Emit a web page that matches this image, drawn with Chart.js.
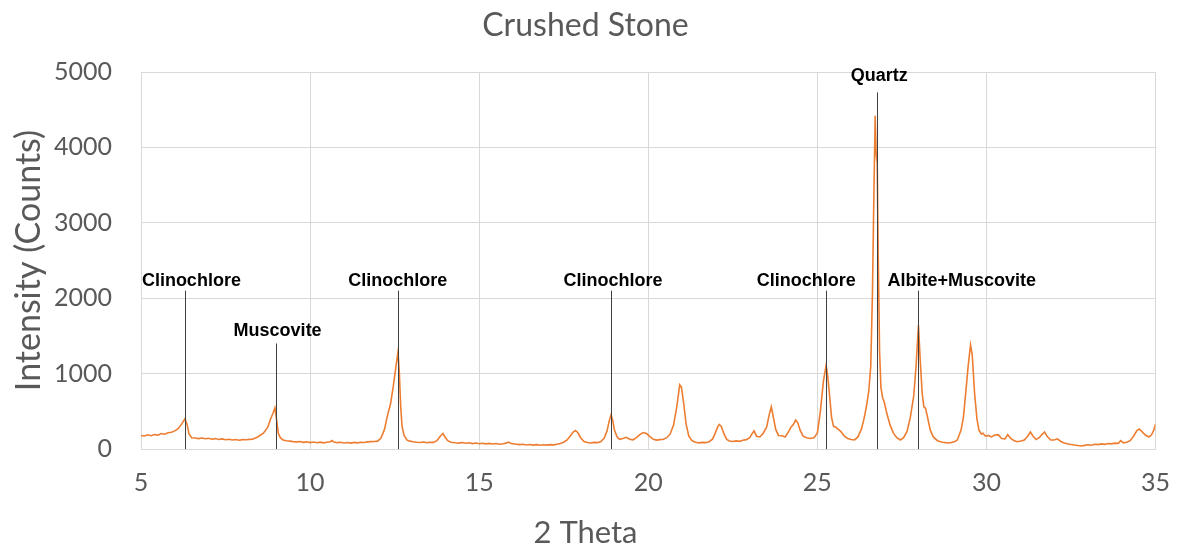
<!DOCTYPE html>
<html>
<head>
<meta charset="utf-8">
<script src="https://cdn.jsdelivr.net/npm/chart.js@4.4.1/dist/chart.umd.min.js"></script>
<style>
    html, body { margin: 0; padding: 0; background: #ffffff; }
</style>
</head>
<body>
<canvas id="xrd-chart" width="1182" height="548"></canvas>
<script>
// XRD scan: 2 theta (degrees) and intensity (counts)
const twoTheta = [
    5.0, 5.1, 5.2, 5.3, 5.4, 5.5, 5.6, 5.7, 5.8, 5.9, 6.0, 6.1, 6.2, 6.3, 6.36, 6.42, 6.5, 6.6,
    6.7, 6.8, 6.9, 7.0, 7.1, 7.2, 7.3, 7.4, 7.5, 7.6, 7.7, 7.8, 7.9, 8.0, 8.1, 8.2, 8.3, 8.45,
    8.62, 8.75, 8.82, 8.9, 8.96, 9.0, 9.06, 9.12, 9.2, 9.3, 9.4, 9.5, 9.6, 9.7, 9.8, 9.9, 10.0,
    10.1, 10.2, 10.3, 10.4, 10.5, 10.6, 10.65, 10.7, 10.8, 10.9, 11.0, 11.1, 11.2, 11.3, 11.4,
    11.5, 11.6, 11.7, 11.8, 11.9, 12.0, 12.1, 12.2, 12.28, 12.38, 12.46, 12.54, 12.6, 12.64,
    12.68, 12.72, 12.78, 12.86, 12.95, 13.05, 13.15, 13.25, 13.35, 13.45, 13.55, 13.65, 13.75,
    13.85, 13.93, 13.99, 14.07, 14.17, 14.3, 14.4, 14.5, 14.6, 14.7, 14.8, 14.9, 15.0, 15.1,
    15.2, 15.3, 15.4, 15.5, 15.6, 15.7, 15.8, 15.86, 15.95, 16.1, 16.2, 16.3, 16.4, 16.5, 16.6,
    16.7, 16.8, 16.9, 17.0, 17.1, 17.2, 17.3, 17.4, 17.5, 17.6, 17.7, 17.78, 17.85, 17.92, 18.0,
    18.1, 18.2, 18.3, 18.4, 18.5, 18.6, 18.7, 18.78, 18.85, 18.9, 18.95, 19.0, 19.08, 19.15,
    19.25, 19.35, 19.45, 19.55, 19.65, 19.75, 19.85, 19.95, 20.05, 20.15, 20.25, 20.35, 20.45,
    20.55, 20.65, 20.75, 20.85, 20.93, 20.98, 21.05, 21.12, 21.2, 21.3, 21.4, 21.5, 21.6, 21.7,
    21.8, 21.9, 21.98, 22.05, 22.1, 22.16, 22.24, 22.32, 22.4, 22.5, 22.6, 22.7, 22.8, 22.9,
    23.0, 23.08, 23.13, 23.2, 23.3, 23.4, 23.5, 23.58, 23.64, 23.7, 23.77, 23.85, 23.95, 24.05,
    24.15, 24.22, 24.3, 24.36, 24.42, 24.5, 24.58, 24.68, 24.78, 24.9, 25.0, 25.09, 25.18,
    25.26, 25.31, 25.36, 25.42, 25.48, 25.55, 25.62, 25.7, 25.8, 25.9, 26.0, 26.1, 26.2, 26.3,
    26.38, 26.45, 26.52, 26.58, 26.63, 26.67, 26.71, 26.74, 26.77, 26.8, 26.84, 26.88, 26.93,
    26.98, 27.05, 27.15, 27.25, 27.35, 27.46, 27.55, 27.65, 27.75, 27.85, 27.92, 27.99, 28.04,
    28.1, 28.15, 28.2, 28.26, 28.34, 28.43, 28.55, 28.7, 28.8, 28.9, 29.05, 29.14, 29.25, 29.32,
    29.4, 29.46, 29.53, 29.58, 29.65, 29.72, 29.78, 29.85, 29.9, 29.97, 30.05, 30.15, 30.25,
    30.35, 30.45, 30.55, 30.63, 30.72, 30.82, 30.92, 31.02, 31.12, 31.22, 31.3, 31.38, 31.47,
    31.56, 31.65, 31.72, 31.8, 31.9, 32.0, 32.1, 32.2, 32.3, 32.45, 32.6, 32.7, 32.8, 32.9, 33.0,
    33.1, 33.2, 33.3, 33.4, 33.5, 33.6, 33.7, 33.8, 33.9, 33.97, 34.05, 34.15, 34.25, 34.35,
    34.45, 34.52, 34.6, 34.7, 34.8, 34.88, 34.95, 35.0
];
const intensity = [
    180, 172, 188, 176, 192, 184, 205, 196, 215, 222, 240, 270, 330, 400, 330, 200, 150, 146,
    138, 145, 136, 142, 130, 138, 126, 134, 122, 130, 119, 126, 116, 124, 122, 128, 130, 160,
    210, 290, 385, 470, 545, 420, 210, 150, 120, 110, 104, 98, 94, 100, 88, 95, 85,
    93, 83, 91, 81, 89, 96, 112, 92, 84, 90, 80, 86, 78, 88, 82,
    90, 86, 94, 98, 100, 104, 150, 260, 430, 600, 830, 1100, 1290, 1000,
    560, 300, 180, 120, 104, 96, 90, 86, 92, 84, 90, 88, 110,
    170, 205, 160, 110, 90, 82, 78, 86, 76, 82, 72, 80, 70, 76,
    68, 74, 66, 72, 64, 70, 78, 92, 72, 64, 58, 62, 54, 60, 52,
    58, 50, 56, 52, 58, 55, 64, 72, 90, 120, 175, 225, 245, 215, 150,
    100, 86, 80, 88, 84, 100, 145, 240, 380, 455, 380, 250, 160, 128,
    140, 155, 130, 122, 150, 190, 218, 205, 165, 128, 118, 124, 130,
    150, 200, 320, 580, 850, 820, 600, 330, 170, 108, 90, 82, 88, 84,
    96, 130, 210, 290, 325, 300, 200, 128, 106, 100, 108, 102, 116, 124,
    150, 210, 240, 170, 160, 210, 290, 460, 560, 420, 260, 180, 175, 160,
    230, 290, 330, 385, 350, 240, 170, 150, 140, 150, 210, 500, 900,
    1110, 950, 720, 420, 300, 290, 260, 230, 170, 140, 125, 120, 160, 260,
    400, 560, 760, 1100, 2070, 3300, 4420, 3900, 3800, 2600, 1300, 820, 680,
    620, 480, 320, 210, 150, 120, 150, 230, 420, 700, 1100, 1640, 1200,
    740, 560, 540, 420, 250, 160, 110, 90, 84, 80, 95, 120, 250, 420,
    800, 1100, 1380, 1250, 740, 400, 250, 200, 210, 170, 180, 160, 185,
    190, 140, 135, 190, 140, 110, 96, 105, 120, 170, 225, 170, 125,
    150, 195, 225, 165, 120, 120, 135, 100, 80, 64, 52, 46, 40, 48, 56,
    50, 62, 58, 68, 62, 72, 68, 78, 74, 110, 82, 90, 110, 170,
    245, 265, 230, 185, 160, 185, 250, 330
];

// Phase labels: line position, top of line, label centre
const phaseNames = ['Clinochlore', 'Muscovite', 'Clinochlore', 'Clinochlore', 'Clinochlore', 'Quartz', 'Albite+Muscovite'];
const phaseAt = [6.3, 8.99, 12.6, 18.9, 25.27, 26.75, 27.99];
const phaseLineTop = [2100, 1400, 2100, 2100, 2100, 4730, 2100];
const phaseLabelX = [6.49, 9.04, 12.59, 18.96, 24.67, 26.83, 29.27];
const phaseLabelY = [2230, 1560, 2230, 2230, 2230, 4950, 2230];

const xTicks = { min: 5, max: 35, step: 5 };
const yTicks = { min: 0, max: 5000, step: 1000 };

const greyText = '#595959';
const gridColor = '#d9d9d9';

// Draws the phase marker lines and their labels
const phaseLabels = {
    id: 'phaseLabels',
    afterDatasetsDraw(chart) {
        const ctx = chart.ctx;
        const xs = chart.scales.x;
        const ys = chart.scales.y;
        ctx.save();
        ctx.strokeStyle = '#404040';
        ctx.lineWidth = 1;
        ctx.fillStyle = '#000000';
        ctx.font = 'bold 18px "Liberation Sans", Arial, sans-serif';
        ctx.textAlign = 'center';
        ctx.textBaseline = 'middle';
        phaseNames.forEach((name, i) => {
            const px = Math.round(xs.getPixelForValue(phaseAt[i])) + 0.5;
            ctx.beginPath();
            ctx.moveTo(px, ys.getPixelForValue(phaseLineTop[i]));
            ctx.lineTo(px, ys.getPixelForValue(0));
            ctx.stroke();
            ctx.fillText(name, xs.getPixelForValue(phaseLabelX[i]), ys.getPixelForValue(phaseLabelY[i]));
        });
        ctx.restore();
    }
};

const ctx = document.getElementById('xrd-chart').getContext('2d');
new Chart(ctx, {
    type: 'line',
    data: {
        datasets: [{
            label: 'Crushed Stone',
            data: twoTheta.map((t, i) => ({ x: t, y: intensity[i] })),
            borderColor: '#ED7D31',
            borderWidth: 1.6,
            pointRadius: 0,
            tension: 0,
            fill: false
        }]
    },
    options: {
        responsive: false,
        animation: false,
        layout: { padding: { top: 10, left: 12, right: 23, bottom: 0 } },
        scales: {
            x: {
                type: 'linear',
                min: xTicks.min,
                max: xTicks.max,
                ticks: {
                    stepSize: xTicks.step,
                    color: greyText,
                    padding: 12,
                    font: { family: 'Lato', size: 25 }
                },
                // invisible tick marks keep the labels low without widening the right padding
                grid: { color: gridColor, drawTicks: true, tickLength: 7, tickColor: 'rgba(0,0,0,0)' },
                border: { color: gridColor },
                afterFit: scale => { scale.height = 68; }
            },
            y: {
                min: yTicks.min,
                max: yTicks.max,
                ticks: {
                    stepSize: yTicks.step,
                    color: greyText,
                    padding: 29,
                    format: { useGrouping: false },
                    font: { family: 'Lato', size: 25 }
                },
                grid: { color: gridColor, drawTicks: false },
                border: { color: gridColor },
                title: {
                    display: true,
                    text: 'Intensity (Counts)',
                    color: greyText,
                    padding: 0,
                    font: { family: 'Lato', size: 34, lineHeight: 1 }
                },
                afterFit: scale => { scale.width = 129; }
            }
        },
        plugins: {
            legend: { display: false },
            tooltip: { enabled: false },
            title: {
                display: true,
                text: 'Crushed Stone',
                color: greyText,
                padding: { top: 0, bottom: 30 },
                font: { family: 'Lato', size: 32, weight: 'normal', lineHeight: 1 }
            },
            subtitle: {
                display: true,
                position: 'bottom',
                text: '2 Theta',
                color: greyText,
                padding: 0,
                font: { family: 'Lato', size: 31, weight: 'normal', lineHeight: 1 }
            }
        }
    },
    plugins: [phaseLabels]
});
</script>
</body>
</html>
